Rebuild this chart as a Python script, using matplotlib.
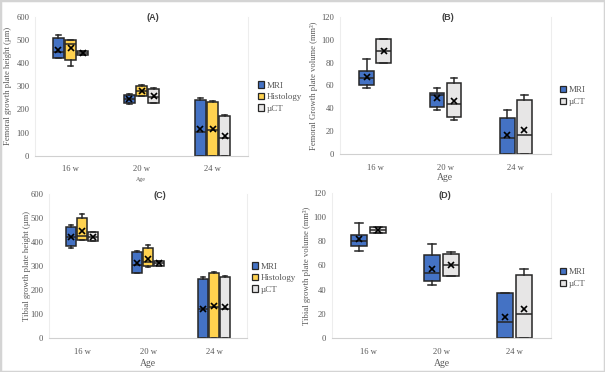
import matplotlib.pyplot as plt
from matplotlib.patches import Patch, Rectangle

W, H = 605, 372

AGES = ["16 w", "20 w", "24 w"]

# one tuple per age: (whisker low, Q1, median, Q3, whisker high, mean)
A_MRI = [(423, 423, 448, 509, 524, 459), (222, 227, 245, 262, 268, 245), (0, 0, 104, 240, 248, 115)]
A_HIST = [(389, 412, 485, 499, 499, 466), (259, 259, 279, 301, 308, 281), (0, 0, 111, 232, 237, 117)]
A_UCT = [(435, 435, 445, 453, 453, 445), (229, 230, 253, 289, 294, 258), (0, 0, 78, 173, 178, 85)]

B_MRI = [(57.8, 60.1, 66.9, 72.7, 83.5, 67.7), (38.2, 41.2, 51.4, 53.1, 57.5, 48.8), (0, 0, 14, 31.8, 38.5, 16.4)]
B_UCT = [(79.4, 79.4, 90.2, 101, 101, 90.2), (30.1, 32.7, 44.1, 61.9, 66.9, 46.1), (0, 0, 16.6, 47, 51.4, 21.3)]

C_MRI = [(377, 383, 420, 461, 469, 422), (272, 272, 306, 357, 362, 314), (0, 0, 120, 247, 254, 121)]
C_HIST = [(408, 408, 425, 498, 515, 447), (294, 300, 317, 375, 388, 331), (0, 0, 128, 271, 274, 135)]
C_UCT = [(403, 403, 422, 440, 440, 422), (301, 301, 311, 321, 321, 311), (0, 0, 121, 253, 257, 128)]

D_MRI = [(72, 76.1, 80.6, 85, 95.4, 81.9), (43.6, 47.2, 54.1, 68.7, 78.1, 57.1), (0, 0, 13.5, 37.5, 37.5, 17.7)]
D_UCT = [(86.9, 86.9, 89.7, 92.1, 92.1, 89.7), (51, 51, 60.1, 69.8, 70.9, 60.7), (0, 0, 20.1, 52.1, 57.1, 24.3)]

NAMES3 = ["MRI", "Histology", "µCT"]
NAMES2 = ["MRI", "µCT"]
BLUE, YELLOW, GREY = "#4472C4", "#FFD24F", "#E7E6E6"
EDGE = "#262626"
TXT = "#595959"
SERIF = "Liberation Serif"


def px_axes(fig, left, top, right, bottom):
    return fig.add_axes([left / W, 1 - bottom / H, (right - left) / W, (bottom - top) / H])


def draw_panel(ax, series, colors, width, step, ymax, ystep):
    n = len(series)
    for i, (stats, col) in enumerate(zip(series, colors)):
        off = (i - (n - 1) / 2) * step
        bstats = [dict(whislo=s[0], q1=s[1], med=s[2], q3=s[3], whishi=s[4], mean=s[5])
                  for s in stats]
        ax.bxp(bstats, positions=[k + off for k in range(len(stats))], widths=width,
               patch_artist=True, showmeans=True, showfliers=False, capwidths=width * 0.45,
               boxprops=dict(facecolor=col, edgecolor=EDGE, lw=1.1),
               medianprops=dict(color=EDGE, lw=1.1),
               whiskerprops=dict(color=EDGE, lw=1.1),
               capprops=dict(color=EDGE, lw=1.1),
               meanprops=dict(marker="x", markeredgecolor="black", markersize=4, mew=1.2))
    ax.set_xlim(-0.5, len(AGES) - 0.5)
    ax.set_ylim(0, ymax)
    ax.set_yticks(range(0, ymax + 1, ystep))
    ax.set_xticks(range(len(AGES)))
    ax.set_xticklabels(AGES)
    ax.tick_params(length=0, labelsize=6.2, colors=TXT)
    ax.tick_params(axis="x", pad=7)
    ax.tick_params(axis="y", pad=4)
    for lab in ax.get_xticklabels() + ax.get_yticklabels():
        lab.set_fontfamily(SERIF)
    ax.spines["top"].set_visible(False)
    ax.spines["left"].set_color("#EDEDED")
    ax.spines["right"].set_color("#EDEDED")
    ax.spines["bottom"].set_color("#D0D0D0")
    ax.patch.set_alpha(0)


def legend(fig, names, colors, x, y):
    handles = [Patch(facecolor=c, edgecolor=EDGE, lw=0.9) for c in colors]
    fig.legend(handles, names, loc="center left", bbox_to_anchor=(x / W, 1 - y / H),
               frameon=False, handlelength=0.7, handleheight=0.7, handletextpad=0.3,
               labelspacing=0.35, borderpad=0, borderaxespad=0,
               prop=dict(family=SERIF, size=6.5), labelcolor=TXT)


fig = plt.figure(figsize=(W / 100, H / 100), dpi=100)
fig.patch.set_facecolor("white")

axA = px_axes(fig, 35, 17, 248, 155.7)
draw_panel(axA, [A_MRI, A_HIST, A_UCT], [BLUE, YELLOW, GREY], 0.15, 0.17, 600, 100)
axB = px_axes(fig, 340, 17, 551, 154)
draw_panel(axB, [B_MRI, B_UCT], [BLUE, GREY], 0.21, 0.24, 120, 20)
axC = px_axes(fig, 49, 194, 247, 338)
draw_panel(axC, [C_MRI, C_HIST, C_UCT], [BLUE, YELLOW, GREY], 0.15, 0.17, 600, 100)
axD = px_axes(fig, 332, 193, 551, 338)
draw_panel(axD, [D_MRI, D_UCT], [BLUE, GREY], 0.23, 0.26, 120, 20)

# y labels
ylabels = [(8, 86, "Femoral growth plate height (µm)"),
           (314, 86, "Femoral Growth plate volume (mm³)"),
           (27, 266, "Tibial growth plate height (µm)"),
           (307, 266, "Tibial growth plate volume (mm³)")]
for x, y, t in ylabels:
    fig.text(x / W, 1 - y / H, t, rotation=90, ha="center", va="center",
             family=SERIF, size=6.2, color=TXT)

# x labels
fig.text(141 / W, 1 - 179 / H, "Age", ha="center", va="center", family=SERIF, size=4.2, color=TXT)
fig.text(445 / W, 1 - 177 / H, "Age", ha="center", va="center", family=SERIF, size=7, color=TXT)
fig.text(148 / W, 1 - 363 / H, "Age", ha="center", va="center", family=SERIF, size=7, color=TXT)
fig.text(442 / W, 1 - 363 / H, "Age", ha="center", va="center", family=SERIF, size=7, color=TXT)

# panel titles
for x, y, t in [(153, 18, "(A)"), (448, 18, "(B)"), (160, 195, "(C)"), (445, 196, "(D)")]:
    fig.text(x / W, 1 - y / H, t, ha="center", va="center", family="Liberation Sans",
             weight="bold", size=6.5, color="#404040")

legend(fig, NAMES3, [BLUE, YELLOW, GREY], 258, 97)
legend(fig, NAMES2, [BLUE, GREY], 560, 96)
legend(fig, NAMES3, [BLUE, YELLOW, GREY], 252, 278)
legend(fig, NAMES2, [BLUE, GREY], 560, 278)

fig.add_artist(Rectangle((0, 0), 1, 1, transform=fig.transFigure, fill=False,
                         edgecolor="#D4D4D4", lw=2.5))

fig.savefig("out.png", dpi=100)
